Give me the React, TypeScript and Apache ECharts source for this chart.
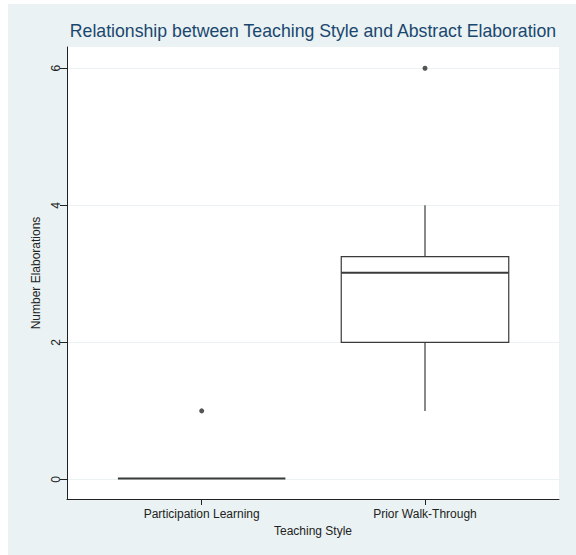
import React, { useEffect, useRef } from "react";
import * as echarts from "echarts";

const categories = ["Participation Learning", "Prior Walk-Through"];
const categoryPositions = [1, 2];
const lowerWhisker = [0, 1];
const lowerQuartile = [0, 2];
const medians = [0, 3];
const upperQuartile = [0, 3.25];
const upperWhisker = [0, 4];
const outliers: [number, number][] = [
  [1, 1],
  [2, 6],
];
const yTicks = [0, 2, 4, 6];

export default function App() {
  const ref = useRef<HTMLDivElement>(null);
  useEffect(() => {
    if (!ref.current) return;
    const chart = echarts.init(ref.current, null, { renderer: "svg" });
    const boxData = categoryPositions.map((p, i) => [
      p,
      lowerWhisker[i],
      lowerQuartile[i],
      medians[i],
      upperQuartile[i],
      upperWhisker[i],
    ]);
    const dark = "#3a3a3a";
    chart.setOption({
      animation: false,
      backgroundColor: "#eaf2f3",
      textStyle: { fontFamily: "Liberation Sans, Arial, sans-serif" },
      title: {
        text: "Relationship between Teaching Style and Abstract Elaboration",
        left: 300,
        top: 13,
        textAlign: "center",
        textStyle: {
          color: "#1a476f",
          fontSize: 17.7,
          fontWeight: "normal",
          fontFamily: "Liberation Sans, Arial, sans-serif",
        },
      },
      grid: {
        left: 59,
        right: 17,
        top: 43,
        bottom: 56,
        show: true,
        backgroundColor: "#ffffff",
        borderWidth: 0,
      },
      xAxis: {
        type: "value",
        min: 0.397,
        max: 2.6,
        name: "Teaching Style",
        nameLocation: "middle",
        nameGap: 26,
        nameTextStyle: { fontSize: 12, color: "#222" },
        axisLine: { show: true, onZero: false, lineStyle: { color: "#222", width: 1 } },
        axisTick: { show: true, length: 6, customValues: categoryPositions, lineStyle: { color: "#222" } },
        axisLabel: {
          customValues: categoryPositions,
          fontSize: 12,
          color: "#222",
          margin: 9,
          formatter: (v: number) => categories[Math.round(v) - 1] ?? "",
        },
        splitLine: { show: false },
      },
      yAxis: {
        type: "value",
        min: -0.286,
        max: 6.31,
        name: "Number Elaborations",
        nameLocation: "middle",
        nameGap: 17,
        nameTextStyle: { fontSize: 12, color: "#222" },
        axisLine: { show: true, onZero: false, lineStyle: { color: "#222", width: 1 } },
        axisTick: { show: true, length: 7, customValues: yTicks, lineStyle: { color: "#222" } },
        axisLabel: {
          customValues: yTicks,
          rotate: 90,
          fontSize: 12,
          color: "#222",
          margin: 5,
        },
        splitLine: { show: false },
      },
      series: [
        {
          type: "line",
          z: 0,
          data: [],
          markLine: {
            silent: true,
            symbol: "none",
            z: 0,
            label: { show: false },
            lineStyle: { color: "#eaf2f3", width: 1, type: "solid" },
            data: yTicks.map((t) => ({ yAxis: t })),
          },
        },
        {
          type: "custom",
          z: 5,
          data: boxData,
          encode: { x: 0, y: [1, 2, 3, 4, 5] },
          renderItem: (params: any, api: any) => {
            const x = api.value(0);
            const half = api.size([0.75, 0])[0] / 2;
            const pLow = api.coord([x, api.value(1)]);
            const pQ1 = api.coord([x, api.value(2)]);
            const pMed = api.coord([x, api.value(3)]);
            const pQ3 = api.coord([x, api.value(4)]);
            const pHigh = api.coord([x, api.value(5)]);
            const cx = pQ1[0];
            const children: any[] = [];
            if (pQ1[1] - pQ3[1] > 0.5) {
              children.push({
                type: "rect",
                shape: { x: cx - half, y: pQ3[1], width: 2 * half, height: pQ1[1] - pQ3[1] },
                style: { fill: "#ffffff", stroke: dark, lineWidth: 1.2 },
              });
            }
            if (pLow[1] - pQ1[1] > 0.5) {
              children.push({
                type: "line",
                shape: { x1: cx, y1: pQ1[1], x2: cx, y2: pLow[1] },
                style: { stroke: dark, lineWidth: 1.2 },
              });
            }
            if (pQ3[1] - pHigh[1] > 0.5) {
              children.push({
                type: "line",
                shape: { x1: cx, y1: pQ3[1], x2: cx, y2: pHigh[1] },
                style: { stroke: dark, lineWidth: 1.2 },
              });
            }
            children.push({
              type: "line",
              shape: { x1: cx - half, y1: pMed[1] - 1, x2: cx + half, y2: pMed[1] - 1 },
              style: { stroke: dark, lineWidth: 2 },
            });
            return { type: "group", children };
          },
        },
        {
          type: "scatter",
          z: 6,
          data: outliers,
          symbol: "circle",
          symbolSize: 5,
          itemStyle: { color: "#2a2a2a" },
        },
      ],
    });
    return () => chart.dispose();
  }, []);
  return (
    <div
      ref={ref}
      style={{ position: "absolute", left: 8, top: 4, width: 568, height: 551 }}
    />
  );
}
